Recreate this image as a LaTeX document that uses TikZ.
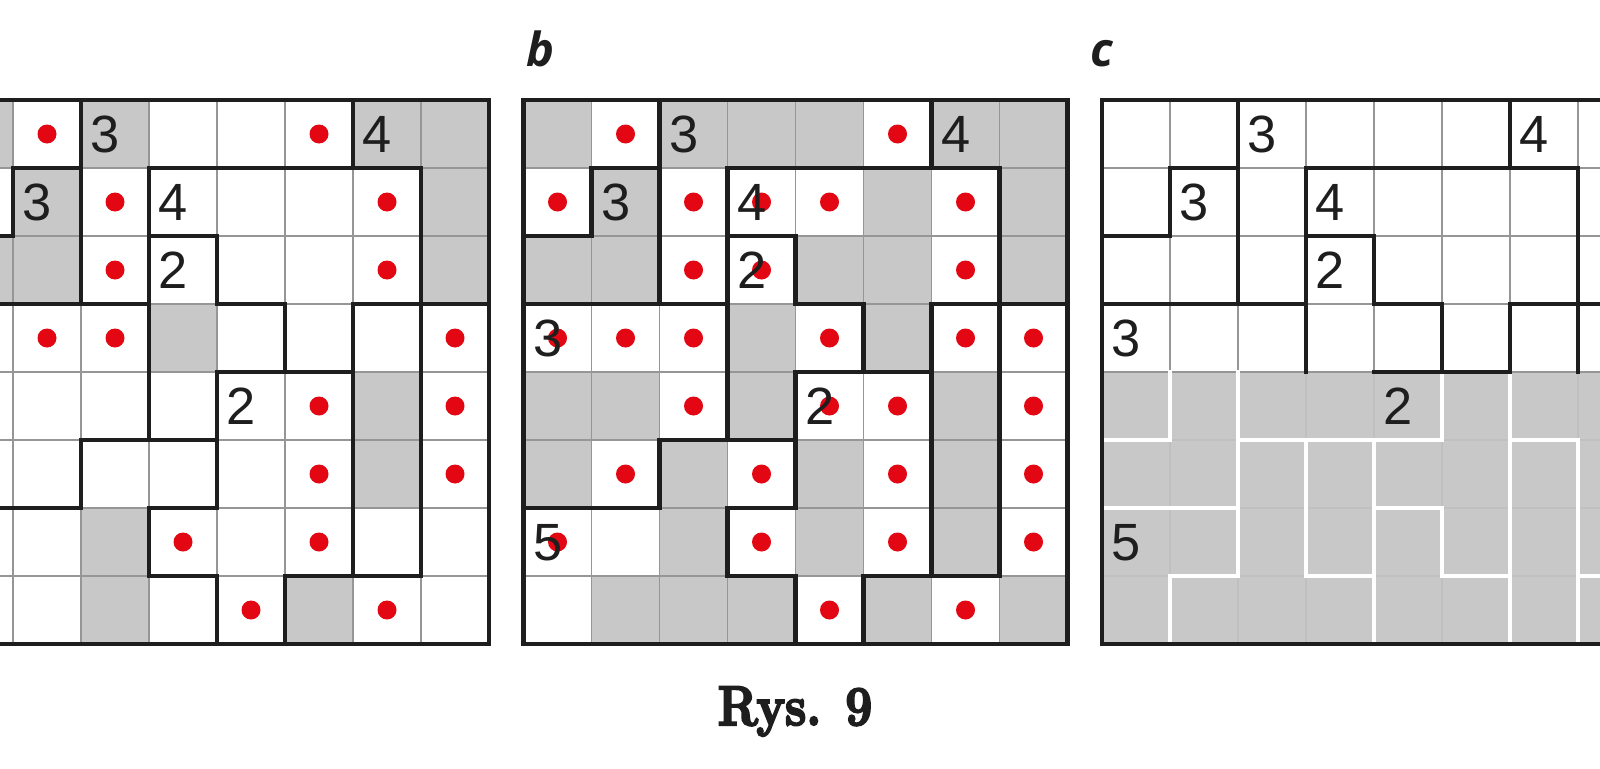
\documentclass[tikz,border=0pt]{standalone}
\usepackage{fontspec}
\usepackage{graphicx}
\newfontfamily\digitfont{Liberation Sans}
\newfontfamily\labelfont{Open Sans}
\newfontfamily\capfont{Latin Modern Roman}[FakeBold=4]
\definecolor{cellgray}{RGB}{200,200,200}
\definecolor{dotred}{RGB}{227,6,19}
\definecolor{gridgray}{RGB}{150,150,150}
\definecolor{gridlight}{RGB}{192,192,192}
\definecolor{inkblack}{RGB}{30,30,30}
\tikzset{
  thinline/.style={line width=1.2pt, draw=gridgray},
  thinlight/.style={line width=1.2pt, draw=gridlight},
  thk/.style={line width=4.2pt, draw=inkblack, line cap=rect},
  whitethk/.style={line width=4.2pt, draw=white, line cap=rect},
  border/.style={line width=4.6pt, draw=inkblack},
  digit/.style={font=\digitfont\fontsize{52.4}{60}\selectfont, text=inkblack, inner sep=0pt, anchor=base west},
  panellabel/.style={font=\labelfont\bfseries\itshape\fontsize{47}{50}\selectfont, text=inkblack, inner sep=0pt, anchor=base west},
  figcaption/.style={font=\capfont\fontsize{55.8}{60}\selectfont\bfseries, text=inkblack, inner sep=0pt, anchor=base}
}
\newcommand\myRegTop{%
  \draw[thk] (2,0)--(2,3) (6,0)--(6,1) (0,2)--(1,2)--(1,1)--(2,1)
    (3,4)--(3,1)--(7,1)--(7,4) (3,2)--(4,2)--(4,3)--(5,3)--(5,4)
    (4,4)--(6,4)--(6,3)--(8,3) (0,3)--(3,3);}
\newcommand\myRegBottom{%
  \draw[thk] (3,4)--(3,5) (2,5)--(4,5) (4,4)--(4,6)--(3,6)--(3,7)--(4,7)--(4,8)
    (0,6)--(2,6)--(2,5) (7,4)--(7,7)--(5,7)--(5,8) (6,4)--(6,7);}
\newcommand\myThin{%
  \foreach \i in {1,...,7} {\draw[thinline] (\i,0)--(\i,8); \draw[thinline] (0,\i)--(8,\i);}}
\begin{document}
\begin{tikzpicture}[x=1pt,y=-1pt]
\useasboundingbox (0,0) rectangle (1600,768);
\clip (0,0) rectangle (1600,768);
\fill[white] (0,0) rectangle (1600,768);

% ---------- grid a ----------
\begin{scope}[shift={(-55pt,-100pt)},x=68pt,y=-68pt]
  \fill[cellgray] foreach \c/\r in {0/0,2/0,6/0,7/0,1/1,7/1,0/2,1/2,7/2,3/3,6/4,6/5,2/6,2/7,5/7} {(\c,\r) rectangle ++(1,1)};
  \myThin
  \fill[dotred] foreach \c/\r in {1/0,5/0,2/1,6/1,2/2,6/2,1/3,2/3,7/3,5/4,7/4,5/5,7/5,3/6,5/6,4/7,6/7} {(\c+0.5,\r+0.5) circle (9.5pt)};
  \myRegTop
  \myRegBottom
  \draw[border] (0,0) rectangle (8,8);
  \node[digit] (a02) at (2.14,0.765) {3};
  \node[digit] (a06) at (6.14,0.765) {4};
  \node[digit] (a11) at (1.14,1.765) {3};
  \node[digit] (a13) at (3.14,1.765) {4};
  \node[digit] (a23) at (3.14,2.765) {2};
  \node[digit] (a44) at (4.14,4.765) {2};
\end{scope}

% ---------- grid b ----------
\node[panellabel] (lb) at (526,66.7) {b};
\begin{scope}[shift={(523.5pt,-100pt)},x=68pt,y=-68pt]
  \fill[cellgray] foreach \c/\r in {0/0,2/0,3/0,4/0,6/0,7/0,1/1,5/1,7/1,0/2,1/2,4/2,5/2,7/2,3/3,5/3,0/4,1/4,3/4,6/4,0/5,2/5,4/5,6/5,2/6,4/6,6/6,1/7,2/7,3/7,5/7,7/7} {(\c,\r) rectangle ++(1,1)};
  \myThin
  \fill[dotred] foreach \c/\r in {1/0,5/0,0/1,2/1,3/1,4/1,6/1,2/2,3/2,6/2,0/3,1/3,2/3,4/3,6/3,7/3,2/4,4/4,5/4,7/4,1/5,3/5,5/5,7/5,0/6,3/6,5/6,7/6,4/7,6/7} {(\c+0.5,\r+0.5) circle (9.5pt)};
  \myRegTop
  \myRegBottom
  \draw[border] (0,0) rectangle (8,8);
  \node[digit] (b02) at (2.14,0.765) {3};
  \node[digit] (b06) at (6.14,0.765) {4};
  \node[digit] (b11) at (1.14,1.765) {3};
  \node[digit] (b13) at (3.14,1.765) {4};
  \node[digit] (b23) at (3.14,2.765) {2};
  \node[digit] (b30) at (0.14,3.765) {3};
  \node[digit] (b44) at (4.14,4.765) {2};
  \node[digit] (b60) at (0.14,6.765) {5};
\end{scope}

% ---------- grid c ----------
\node[panellabel] (lc) at (1090,66.7) {c};
\begin{scope}[shift={(1102pt,-100pt)},x=68pt,y=-68pt]
  \fill[cellgray] (0,4) rectangle (8,8);
  \foreach \i in {1,...,7} {\draw[thinline] (\i,0)--(\i,4); \draw[thinlight] (\i,4)--(\i,8);}
  \foreach \i in {1,...,4} {\draw[thinline] (0,\i)--(8,\i);}
  \foreach \i in {5,...,7} {\draw[thinlight] (0,\i)--(8,\i);}
  \draw[whitethk] (1,4)--(1,5)--(0,5) (2,4)--(2,7) (5,4)--(5,5) (6,4)--(6,8) (7,5)--(7,8)
    (3,5)--(3,7) (4,5)--(4,8) (5,6)--(5,7) (1,7)--(1,8) (2,5)--(5,5) (6,5)--(7,5)
    (0,6)--(2,6) (3,7)--(4,7) (4,6)--(5,6) (5,7)--(6,7) (1,7)--(2,7) (7,7)--(8,7);
  \myRegTop
  \draw[border] (0,0) rectangle (8,8);
  \node[digit] (c02) at (2.14,0.765) {3};
  \node[digit] (c06) at (6.14,0.765) {4};
  \node[digit] (c11) at (1.14,1.765) {3};
  \node[digit] (c13) at (3.14,1.765) {4};
  \node[digit] (c23) at (3.14,2.765) {2};
  \node[digit] (c30) at (0.14,3.765) {3};
  \node[digit] (c44) at (4.14,4.765) {2};
  \node[digit] (c60) at (0.14,6.765) {5};
\end{scope}

\node[figcaption] (cap) at (795,725) {\scalebox{0.86}[1]{Rys. 9}};
\end{tikzpicture}
\end{document}
